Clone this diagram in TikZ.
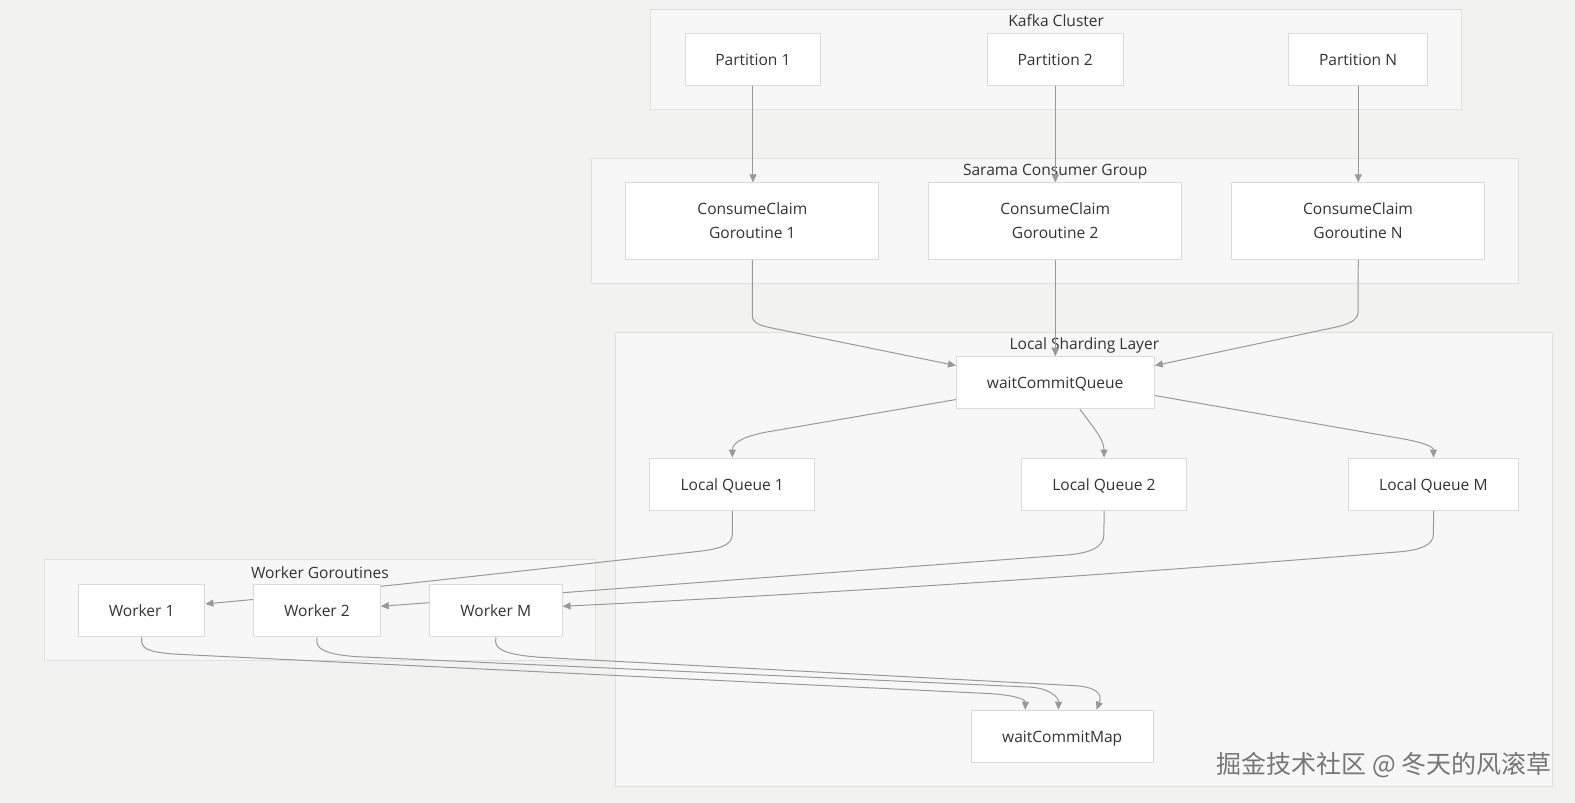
\documentclass[tikz,border=0pt]{standalone}
\usepackage{fontspec}
\setmainfont{Open Sans}
\newfontfamily\cjkfont{Noto Sans CJK SC}
\usetikzlibrary{arrows.meta,calc}
\pgfdeclarelayer{bg}
\pgfdeclarelayer{fg}
\pgfsetlayers{bg,main,fg}
\definecolor{pagebg}{RGB}{242,242,241}
\definecolor{clfill}{RGB}{247,247,247}
\definecolor{clline}{RGB}{225,225,225}
\definecolor{nodeline}{RGB}{218,218,218}
\definecolor{edgecol}{RGB}{153,153,153}
\definecolor{txt}{RGB}{51,51,51}
\definecolor{wmcol}{RGB}{118,118,118}
\tikzset{
  box/.style={draw=nodeline, fill=white, line width=1pt, inner sep=0pt,
    font=\fontsize{15.5}{24}\selectfont, text=txt, align=center},
  oneline/.style={text height=12.5pt, text depth=0pt},
  cluster/.style={draw=clline, fill=clfill, line width=1pt, inner sep=0pt},
  cltitle/.style={font=\fontsize{15.5}{18}\selectfont, text=txt, inner sep=0pt,
    text height=12pt, text depth=0pt},
  flow/.style={draw=edgecol, line width=1pt, -{Triangle[length=8pt,width=7pt]}},
}
\begin{document}
\begin{tikzpicture}[x=1pt,y=-1pt,scale=1.00446,transform shape]
\useasboundingbox (0,0) rectangle (1568,799.4);
\begin{pgfonlayer}{bg}
\fill[pagebg] (0,0) rectangle (1568,799.4);
\node[cluster, minimum width=807pt, minimum height=100pt] (kafka) at (1051.5,59) {};
\node[cluster, minimum width=923pt, minimum height=124pt] (sarama) at (1050.5,220) {};
\node[cluster, minimum width=933pt, minimum height=452pt] (lsl) at (1079.5,557) {};
\node[cluster, minimum width=549pt, minimum height=100pt] (wg) at (318.5,607.5) {};
\node[cltitle] (kafkaT) at (1051.5,20) {Kafka Cluster};
\node[cltitle] (saramaT) at (1050.5,169) {Sarama Consumer Group};
\node[cltitle] (lslT) at (1079.5,342) {Local Sharding Layer};
\node[cltitle] (wgT) at (318.5,569.5) {Worker Goroutines};
\end{pgfonlayer}

\begin{pgfonlayer}{fg}
\node[box, oneline, minimum width=135pt, minimum height=52pt] (p1) at (749.5,59) {Partition 1};
\node[box, oneline, minimum width=135pt, minimum height=52pt] (p2) at (1050.5,59) {Partition 2};
\node[box, oneline, minimum width=138pt, minimum height=52pt] (pN) at (1352,59) {Partition N};
\node[box, minimum width=252pt, minimum height=76pt] (cc1) at (749,220) {ConsumeClaim\\Goroutine 1};
\node[box, minimum width=252pt, minimum height=76pt] (cc2) at (1050.5,220) {ConsumeClaim\\Goroutine 2};
\node[box, minimum width=252pt, minimum height=76pt] (ccN) at (1352,220) {ConsumeClaim\\Goroutine N};
\node[box, oneline, minimum width=197pt, minimum height=52pt] (wcq) at (1050.5,381) {waitCommitQueue};
\node[box, oneline, minimum width=164pt, minimum height=52pt] (lq1) at (729,482) {Local Queue 1};
\node[box, oneline, minimum width=164pt, minimum height=52pt] (lq2) at (1099,482) {Local Queue 2};
\node[box, oneline, minimum width=170pt, minimum height=52pt] (lqM) at (1427,482) {Local Queue M};
\node[box, oneline, minimum width=181pt, minimum height=52pt] (wcm) at (1057.5,733) {waitCommitMap};
\node[box, oneline, minimum width=126pt, minimum height=52pt] (w1) at (141,608) {Worker 1};
\node[box, oneline, minimum width=126pt, minimum height=52pt] (w2) at (315.5,608) {Worker 2};
\node[box, oneline, minimum width=132pt, minimum height=52pt] (wM) at (493.5,608) {Worker M};
\node[anchor=east, inner sep=0pt, font=\cjkfont\fontsize{24.9}{26}\selectfont, text=wmcol] (wmark) at (1545,762) {掘金技术社区 @ 冬天的风滚草};
\end{pgfonlayer}

% Kafka -> Sarama
\draw[flow] (p1.south) -- (p1.south |- cc1.north);
\draw[flow] (p2.south) -- (p2.south |- cc2.north);
\draw[flow] (pN.south) -- (pN.south |- ccN.north);
% Sarama -> waitCommitQueue
\draw[flow] (cc1.south) -- (749,314) .. controls (749,322) and (757.3,324.3) .. (770,326.9) -- ($(wcq.north west)+(0,9.4)$);
\draw[flow] (cc2.south) -- (cc2.south |- wcq.north);
\draw[flow] (ccN.south) -- (1352,311) .. controls (1352,319) and (1341.5,323.2) .. (1328.8,325.9) -- ($(wcq.north east)+(0,9.4)$);
% waitCommitQueue -> local queues
\draw[flow] ($(wcq.south west)+(0,-9.8)$) -- (765,429.8) .. controls (746.3,433.1) and (729,439) .. (lq1.north);
\draw[flow] ($(wcq.south)+(24.5,0)$) .. controls (1088,425) and (1099,437) .. (lq2.north);
\draw[flow] ($(wcq.north east)+(0,39.2)$) -- (1393.8,436.4) .. controls (1413.3,439.7) and (1427,444) .. (lqM.north);
% local queues -> workers
\draw[flow] (lq1.south) -- (729,532) .. controls (729,543) and (716,546.5) .. (695,549) .. controls (540,566) and (330,590) .. ($(w1.north east)+(0,19.6)$);
\draw[flow] (lq2.south) -- (1099,532) .. controls (1099,544) and (1087,550.6) .. (1062,552.5) -- ($(w2.north east)+(0,22)$);
\draw[flow] (lqM.south) -- (1427,532) .. controls (1427,543) and (1413,547.5) .. (1394,549.3) .. controls (1100,573) and (800,592) .. ($(wM.north east)+(0,22)$);
% workers -> waitCommitMap
\draw[flow] (w1.south) -- (141,638) .. controls (141,647) and (152,650) .. (180,651.5) -- (985,690.5) .. controls (1008,691.8) and (1021,696) .. ($(wcm.north west)+(54,0)$);
\draw[flow] (w2.south) -- (315.5,639) .. controls (315.5,648) and (332,652.7) .. (360,654) -- (1025,684) .. controls (1044,685) and (1054,694) .. ($(wcm.north west)+(87,0)$);
\draw[flow] (wM.south) -- (493.5,639) .. controls (493.5,648) and (510,652.6) .. (540,654.5) -- (1068,682.5) .. controls (1090,683.5) and (1098,690) .. ($(wcm.north west)+(125,0)$);
\end{tikzpicture}
\end{document}
